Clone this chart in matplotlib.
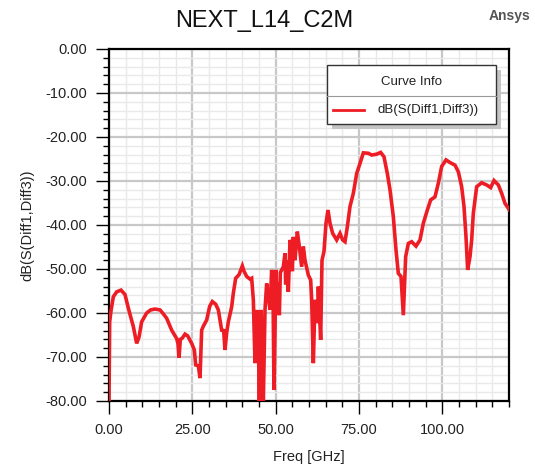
import matplotlib
matplotlib.use("Agg")
import matplotlib.pyplot as plt
from matplotlib.ticker import MultipleLocator, FormatStrFormatter
from matplotlib.patches import Rectangle
from matplotlib.lines import Line2D

title = "NEXT_L14_C2M"
series_name = "dB(S(Diff1,Diff3))"
x_label = "Freq [GHz]"
y_label = "dB(S(Diff1,Diff3))"

freq = [0.0, 0.2, 0.6, 1.3, 2.3, 3.6, 4.8, 5.8, 7.3, 8.3, 9.0, 9.8, 11.3, 12.5, 13.8,
        15.3, 16.3, 17.3, 18.8, 20.3, 20.7, 21.0, 21.4, 22.0, 22.8, 23.6, 24.8, 25.6,
        26.0, 26.8, 27.3, 27.8, 28.3, 29.3, 30.2, 31.0, 32.0, 32.8, 33.8, 34.4, 34.8,
        35.3, 35.8, 36.8, 37.3, 38.0, 39.0, 40.0, 40.5, 41.3, 42.3, 42.8, 43.3, 43.8,
        44.3, 44.8, 45.1, 45.5, 45.8, 46.3, 46.8, 47.3, 47.8, 48.3, 48.8, 49.2, 49.5,
        50.1, 50.4, 50.7, 51.1, 51.4, 51.8, 52.3, 52.8, 53.0, 53.3, 53.8, 54.3, 54.8,
        55.0, 55.3, 55.8, 56.5, 57.1, 57.8, 58.3, 58.8, 59.8, 60.5, 60.8, 61.3, 61.8,
        62.5, 62.8, 63.5, 63.9, 64.5, 65.1, 65.7, 66.3, 67.1, 68.3, 69.3, 70.1, 70.8,
        71.5, 72.3, 73.3, 74.3, 75.3, 76.3, 77.8, 78.8, 80.3, 81.5, 82.5, 83.5, 84.3,
        85.3, 86.1, 86.8, 87.6, 88.3, 89.0, 89.8, 90.8, 92.1, 93.3, 94.3, 95.5, 96.5,
        97.8, 98.8, 99.8, 101.1, 102.3, 103.8, 104.8, 105.8, 106.5, 107.1, 107.6, 108.3,
        108.8, 109.3, 110.3, 111.8, 113.3, 114.5, 115.5, 116.8, 117.8, 118.8, 119.8, 120.0]
s_db = [-80, -62, -59.5, -56.3, -55.2, -54.8, -55.8, -58.9, -63.1, -66.9, -65.5, -62,
        -60, -59.3, -59.1, -59.3, -60.2, -61.2, -63.9, -65.8, -67, -70.2, -66, -65.7,
        -64.8, -65.2, -66.9, -68.4, -71.8, -72, -74.8, -63.9, -63, -61.6, -58.5, -57.4,
        -58, -59.3, -63.9, -64, -68.4, -64.5, -62, -58.6, -55.5, -52.1, -51.3, -49.3,
        -50.5, -51.7, -52.3, -52.1, -57, -71.4, -59.3, -65, -80, -59.3, -62, -80, -59.3,
        -53.3, -56, -59.3, -50.2, -55, -77.5, -50.2, -59.5, -53, -60.5, -50.8, -50.2,
        -49.5, -46.4, -53.5, -48, -55.2, -43.4, -45, -50.5, -42.7, -48, -41.5, -44.9,
        -49.5, -44.9, -48, -51.4, -52.5, -57, -71.4, -57, -62.3, -54, -66.1, -48, -46,
        -39.6, -36.6, -39.6, -41.9, -43.4, -41.9, -43.4, -43.8, -40.4, -35.8, -32.8,
        -28.3, -26, -23.6, -23.7, -24.1, -23.9, -23.5, -24.5, -28.3, -32, -38.1, -45.7,
        -51, -51.7, -60.5, -47.2, -44.2, -43.8, -44.8, -43.4, -39.6, -36.6, -34.3, -33.6,
        -30.5, -26.7, -25.2, -25.8, -26.4, -27.9, -31.3, -35.8, -42.7, -50.2, -47.2,
        -43.4, -37.3, -31.3, -30.4, -30.9, -31.5, -29.9, -30.9, -32.8, -35.1, -36.2, -36.5]

plt.rcParams['font.family'] = ['Liberation Sans', 'DejaVu Sans']

fig = plt.figure(figsize=(5.35, 4.68), dpi=100)
ax = fig.add_axes([109/535, 1 - 401/468, 400/535, 352/468])

red = '#ee1c24'
ax.plot(freq, s_db, color=red, lw=2.6, solid_joinstyle='miter', zorder=3)

ax.set_xlim(0, 120)
ax.set_ylim(-80, 0)
ax.xaxis.set_major_locator(MultipleLocator(25))
ax.xaxis.set_minor_locator(MultipleLocator(5))
ax.yaxis.set_major_locator(MultipleLocator(10))
ax.yaxis.set_minor_locator(MultipleLocator(2))
ax.xaxis.set_major_formatter(FormatStrFormatter('%.2f'))
ax.yaxis.set_major_formatter(FormatStrFormatter('%.2f'))

ax.grid(which='major', color='#c8c8c8', lw=1.6, zorder=1)
ax.grid(which='minor', color='#e9e9e9', lw=1.0, zorder=0)
ax.set_axisbelow(True)

for s in ax.spines.values():
    s.set_linewidth(1.6)
    s.set_color('black')

ax.tick_params(which='major', direction='out', length=9.5, width=1.0, colors='black',
               labelsize=10.5, labelcolor='#222222', pad=6)
ax.tick_params(which='minor', direction='out', length=4.5, width=1.0, colors='black')

ax.set_xlabel(x_label, fontsize=10.5, color='#222222', labelpad=10)
ax.set_ylabel(y_label, fontsize=10.5, color='#222222', labelpad=8)

fig.text(264/535, 1 - 21/468, title, ha='center', va='center', fontsize=17, color='#111111')
fig.text(530/535, 1 - 16/468, "Ansys", ha='right', va='center', fontsize=10,
         fontweight='bold', color='#555555')

# Legend box ("Curve Info")
tr = fig.transFigure
lx0, lx1 = 327/535, 496/535
ly0, ly1 = 1 - 124/468, 1 - 65/468
sh = Rectangle((lx0 + 5/535, ly0 - 5/468), lx1 - lx0, ly1 - ly0, transform=tr,
               facecolor='#c4c4c4', edgecolor='none', zorder=4)
fig.patches.append(sh)
box = Rectangle((lx0, ly0), lx1 - lx0, ly1 - ly0, transform=tr,
                facecolor='white', edgecolor='#333333', lw=1.0, zorder=5)
fig.patches.append(box)
fig.lines.append(Line2D([lx0, lx1], [1 - 96/468, 1 - 96/468], transform=tr,
                        color='#999999', lw=0.8, zorder=6))
fig.text((lx0 + lx1) / 2, 1 - 82/468, "Curve Info", ha='center', va='center',
         fontsize=9.5, color='#222222', zorder=7)
fig.lines.append(Line2D([333/535, 364/535], [1 - 110/468, 1 - 110/468], transform=tr,
                        color=red, lw=2.0, zorder=6))
fig.text(378/535, 1 - 110/468, series_name, ha='left', va='center',
         fontsize=9.5, color='#222222', zorder=7)

fig.savefig('out.png', dpi=100)
